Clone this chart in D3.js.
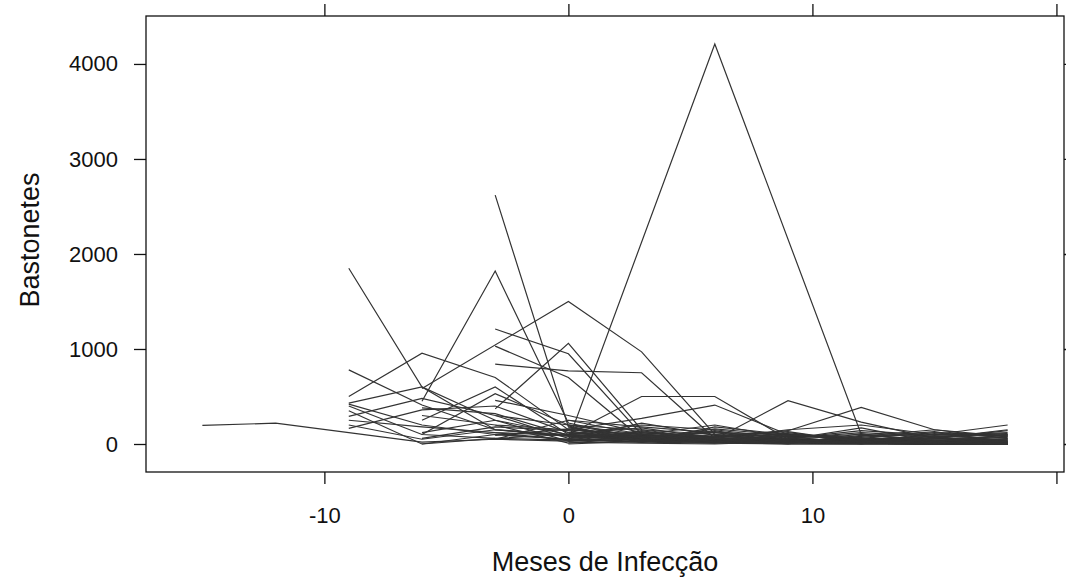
<!DOCTYPE html>
<html>
<head>
<meta charset="utf-8">
<script src="https://cdn.jsdelivr.net/npm/d3@7"></script>
<style>
  html, body { margin: 0; padding: 0; background: #fff; }
  svg { display: block; }
  text { font-family: "Liberation Sans", Arial, sans-serif; fill: #111; }
</style>
</head>
<body>
<svg id="chart" width="1066" height="585"></svg>
<script>
// Months of observation (x values)
const months = [-15, -12, -9, -6, -3, 0, 3, 6, 9, 12, 15, 18];
// Tick values and labels
const xTicks = [-10, 0, 10, 20];
const xTickLabels = ["-10", "0", "10", ""];
const yTicks = [0, 1000, 2000, 3000, 4000];
const yTickLabels = ["0", "1000", "2000", "3000", "4000"];
const xTitle = "Meses de Infecção";
const yTitle = "Bastonetes";
// Bastonetes per subject (one row per subject, aligned to months; null = not observed)
const bastonetes = [
  [195, 220, 120, 20, 50, 30, 80, 40, 60, 30, 20, 10],
  [null, null, null, null, 120, 40, null, 4210, null, 100, null, 60],
  [null, null, 1850, 600, 150, 90, 60, 40, 30, null, 20, null],
  [null, null, null, 450, 1820, 220, 60, 30, 20, 10, null, 0],
  [null, null, null, null, 2620, 180, 50, 40, 60, 30, 20, 10],
  [null, null, null, 585, null, 1500, 970, 100, 40, 20, 30, null],
  [null, null, null, null, 370, 1060, 150, 50, 20, 10, 0, 0],
  [null, null, null, null, 1210, 950, 100, 60, 40, 20, 10, null],
  [null, null, null, null, 1030, 700, 60, 30, 20, 40, null, 10],
  [null, null, null, null, 840, 770, 750, 60, 30, 20, 10, 0],
  [null, null, null, null, 460, 300, 120, 80, 50, 30, 20, 10],
  [null, null, null, null, null, 100, 500, 500, 50, 40, 30, 20],
  [null, null, null, null, null, 150, 270, 410, 100, 60, 40, 30],
  [null, null, null, null, null, 80, 120, 50, 456, 230, 60, 40],
  [null, null, null, null, null, 60, 90, 70, 140, 386, 150, 80],
  [null, null, null, null, null, 40, 60, 80, 50, 30, 100, 200],
  [null, null, 780, 410, 150, 100, 60, 40, 20, 10, 0, 0],
  [null, null, 500, 955, 700, 150, 100, 60, 40, 20, 10, 0],
  [null, null, 430, 600, 250, 100, 80, 50, 30, 20, 10, 0],
  [null, null, 420, 200, 100, 50, 30, 20, 10, 0, 0, 0],
  [null, null, 290, 480, 300, 200, 100, 60, 40, 20, 10, 0],
  [null, null, 200, 50, 150, 80, 40, 20, 0, 0, 0, 0],
  [null, null, 165, 360, 400, 120, 60, 40, 20, 10, 0, 0],
  [null, null, 400, 100, 60, 40, 20, 10, 0, 0, null, 0],
  [null, null, 350, 0, 60, 100, 50, 20, 30, 10, 0, 0],
  [null, null, 250, 180, 120, 90, 60, 40, 30, 20, 10, 0],
  [null, null, null, 300, 200, 150, 100, 60, 40, 30, 20, 10],
  [null, null, null, 100, 530, 200, 70, 30, 20, 10, 0, 0],
  [null, null, null, 250, 600, 100, 50, 30, 20, 10, 0, 0],
  [null, null, null, 0, 100, 50, 20, 180, 100, 50, 20, 10],
  [null, null, null, null, null, 200, 150, 100, 80, 60, 40, 20],
  [null, null, null, null, 50, 250, 180, 120, 100, 50, 80, 100],
  [null, null, null, null, null, 100, 200, 150, 60, 120, 80, 0],
  [null, null, null, null, null, 30, 50, 160, 90, 40, 60, 150],
  [null, null, null, null, null, 150, 100, 200, 70, 100, 30, 50],
  [null, null, null, null, null, 80, 40, 20, 100, 60, 120, 90],
  [null, null, null, null, null, 60, 220, 90, 40, 20, 10, 30],
  [null, null, null, null, null, 0, 30, 60, 150, 200, 100, 110],
  [null, null, null, null, null, 120, 80, 40, 20, 80, 150, 60],
  [null, null, null, null, null, 20, 10, 0, 30, 10, 20, 0],
  [null, null, null, null, null, 250, 100, 30, 60, 140, 90, 120],
  [null, null, null, null, null, 170, 60, 120, 30, 50, 40, 70],
  [null, null, null, 380, 320, 90, 40, 140, 20, 60, 10, 40],
  [null, null, null, 120, 250, 30, 130, 70, 110, 30, 70, 20],
  [null, null, null, 60, 180, 140, 20, 100, 10, 90, 50, 80],
  [null, null, null, null, 300, 60, 110, 20, 80, 0, 110, 30],
  [null, null, null, null, 200, 10, 70, 130, 50, 170, 20, 100],
  [null, null, null, null, 90, 160, 40, 10, 120, 30, 60, 140],
  [null, null, null, null, null, 110, 170, 60, 0, 110, 10, 50],
  [null, null, null, null, null, 40, 140, 20, 90, 70, 130, 20],
  [null, null, null, null, null, 190, 20, 80, 130, 20, 80, 90]
];

const svg = d3.select("#chart");
const box = { left: 146, right: 1064, top: 16, bottom: 472 };

// lattice-style 7% padding around data range
const xExt = [-15, 18], yExt = [0, 4210];
const xPad = (xExt[1] - xExt[0]) * 0.07, yPad = (yExt[1] - yExt[0]) * 0.07;
const x = d3.scaleLinear().domain([xExt[0] - xPad, xExt[1] + xPad]).range([box.left, box.right]);
const y = d3.scaleLinear().domain([yExt[0] - yPad, yExt[1] + yPad]).range([box.bottom, box.top]);

svg.append("clipPath").attr("id", "clip").append("rect")
  .attr("x", box.left).attr("y", box.top)
  .attr("width", box.right - box.left).attr("height", box.bottom - box.top);

const line = d3.line().x(d => x(d[0])).y(d => y(d[1]));
const g = svg.append("g").attr("clip-path", "url(#clip)");
bastonetes.forEach(row => {
  const pts = months.map((m, i) => [m, row[i]]).filter(d => d[1] !== null);
  g.append("path").attr("d", line(pts))
    .attr("fill", "none").attr("stroke", "#333").attr("stroke-width", 1.2);
});

const tickLen = 12;
const axB = d3.axisBottom(x).tickValues(xTicks).tickSize(tickLen).tickSizeOuter(0).tickPadding(23)
  .tickFormat((d, i) => xTickLabels[i]);
const axT = d3.axisTop(x).tickValues(xTicks).tickSize(tickLen).tickSizeOuter(0).tickFormat("");
const axL = d3.axisLeft(y).tickValues(yTicks).tickSize(tickLen).tickSizeOuter(0).tickPadding(16)
  .tickFormat((d, i) => yTickLabels[i]);
const axR = d3.axisRight(y).tickValues(yTicks).tickSize(tickLen).tickSizeOuter(0).tickFormat("");

function style(sel) {
  sel.select(".domain").remove();
  sel.selectAll("line").attr("stroke", "#111").attr("stroke-width", 1.3);
  sel.selectAll("text").attr("fill", "#111").style("font-size", "22px")
     .style("font-family", "'Liberation Sans', Arial, sans-serif");
}
svg.append("g").attr("transform", `translate(0,${box.bottom})`).call(axB).call(style);
svg.append("g").attr("transform", `translate(0,${box.top})`).call(axT).call(style);
svg.append("g").attr("transform", `translate(${box.left},0)`).call(axL).call(style);
svg.append("g").attr("transform", `translate(${box.right},0)`).call(axR).call(style);

svg.append("rect").attr("x", box.left).attr("y", box.top)
  .attr("width", box.right - box.left).attr("height", box.bottom - box.top)
  .attr("fill", "none").attr("stroke", "#111").attr("stroke-width", 1.3);

svg.append("text").attr("x", (box.left + box.right) / 2).attr("y", 571)
  .attr("text-anchor", "middle").style("font-size", "27px").text(xTitle);
svg.append("text").attr("transform", `translate(39,240) rotate(-90)`)
  .attr("text-anchor", "middle").style("font-size", "27px").text(yTitle);
</script>
</body>
</html>
